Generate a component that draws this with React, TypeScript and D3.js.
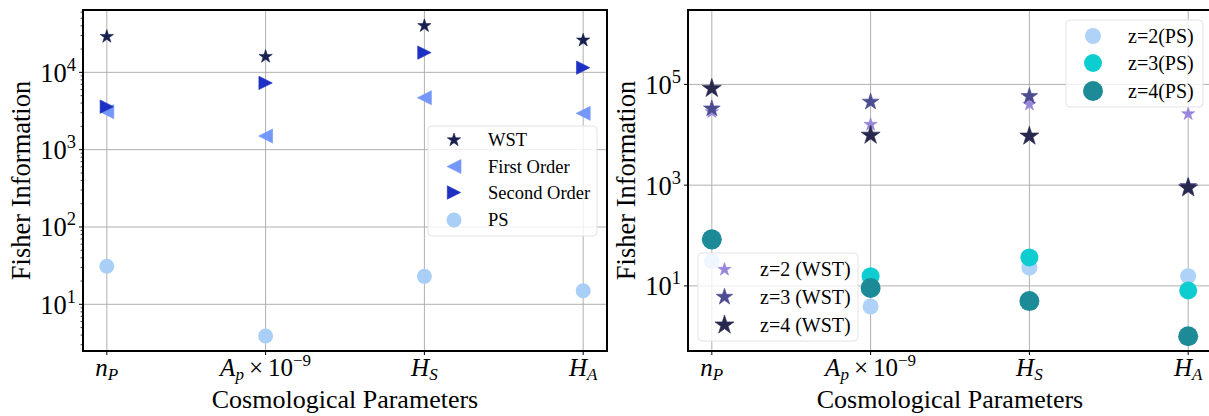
import React, { useEffect, useRef } from 'react';
import * as d3 from 'd3';

// categories
const params = ['nP', 'Ap', 'HS', 'HA'];

// left panel (Fisher information per statistic)
const wstLeft = [2.9e4, 1.6e4, 4.0e4, 2.6e4];
const firstOrder = [3.1e3, 1.5e3, 4.7e3, 2.95e3];
const secondOrder = [3.6e3, 7.3e3, 1.8e4, 1.15e4];
const psLeft = [31, 3.9, 23, 15];

// right panel (per redshift)
const wstZ2 = [2.85e4, 1.6e4, 4.0e4, 2.6e4];
const wstZ3 = [3.3e4, 4.5e4, 5.8e4, 950];
const wstZ4 = [8.3e4, 9.8e3, 9.4e3, 880];
const psZ2 = [31, 3.9, 23, 15.6];
const psZ3 = [80, 15.6, 36.7, 8.1];
const psZ4 = [84, 9.1, 5.0, 1.0];

const leftTicks = [10, 100, 1000, 10000];
const rightTicks = [10, 1000, 100000];

const FONT = "'Liberation Serif', 'DejaVu Serif', serif";

function starPath(r: number) {
  const ri = r * 0.382;
  const pts: string[] = [];
  for (let i = 0; i < 10; i++) {
    const a = -Math.PI / 2 + (i * Math.PI) / 5;
    const rr = i % 2 ? ri : r;
    pts.push(`${(rr * Math.cos(a)).toFixed(2)},${(rr * Math.sin(a)).toFixed(2)}`);
  }
  return 'M' + pts.join('L') + 'Z';
}
function triPath(h: number, dir: 'left' | 'right') {
  return dir === 'right'
    ? `M${-h},${-h}L${h},0L${-h},${h}Z`
    : `M${h},${-h}L${-h},0L${h},${h}Z`;
}

type Marker = { kind: 'star' | 'left' | 'right' | 'circle'; size: number; color: string };

function drawMarker(g: any, m: Marker, x: number, y: number) {
  if (m.kind === 'circle') {
    g.append('circle').attr('cx', x).attr('cy', y).attr('r', m.size).attr('fill', m.color);
  } else {
    const d = m.kind === 'star' ? starPath(m.size) : triPath(m.size, m.kind);
    g.append('path').attr('d', d).attr('transform', `translate(${x},${y})`)
      .attr('fill', m.color).attr('stroke', m.color).attr('stroke-width', 0.6);
  }
}

const App: React.FC = () => {
  const svgRef = useRef<SVGSVGElement>(null);

  useEffect(() => {
    const svg = d3.select(svgRef.current);
    svg.selectAll('*').remove();

    const panel = (x0: number, x1: number, y: any, majors: number[], minors: boolean, labelX: number) => {
      const top = 10, bottom = 351;
      const x = d3.scalePoint<string>().domain(params).range([x0, x1]).padding(0.15);
      const g = svg.append('g');
      // grid
      params.forEach(p => g.append('line').attr('x1', x(p)!).attr('x2', x(p)!)
        .attr('y1', top).attr('y2', bottom).attr('stroke', '#b0b0b0').attr('stroke-width', 1));
      majors.forEach(v => g.append('line').attr('x1', x0).attr('x2', x1)
        .attr('y1', y(v)).attr('y2', y(v)).attr('stroke', '#b0b0b0').attr('stroke-width', 1));
      // ticks
      majors.forEach(v => {
        g.append('line').attr('x1', x0 - 4).attr('x2', x0).attr('y1', y(v)).attr('y2', y(v)).attr('stroke', '#000');
        const exp = Math.round(Math.log10(v));
        const t = g.append('text').attr('x', x0 - 7).attr('y', y(v) + 9.5).attr('text-anchor', 'end')
          .attr('font-family', FONT).attr('font-size', 26.5);
        t.append('tspan').text('10');
        t.append('tspan').attr('font-size', 18.5).attr('dy', -11).text(String(exp));
      });
      if (minors) {
        const [lo, hi] = y.domain();
        for (let e = Math.floor(Math.log10(lo)); e <= Math.ceil(Math.log10(hi)); e++) {
          for (let k = 2; k <= 9; k++) {
            const v = k * Math.pow(10, e);
            if (v < lo || v > hi) continue;
            g.append('line').attr('x1', x0 - 2.5).attr('x2', x0).attr('y1', y(v)).attr('y2', y(v))
              .attr('stroke', '#000').attr('stroke-width', 0.7);
          }
        }
      }
      params.forEach(p => g.append('line').attr('x1', x(p)!).attr('x2', x(p)!)
        .attr('y1', bottom).attr('y2', bottom + 4).attr('stroke', '#000'));
      // x tick labels
      const lab = (p: string) => {
        const t = g.append('text').attr('x', x(p)!).attr('y', 376).attr('text-anchor', 'middle')
          .attr('font-family', FONT).attr('font-size', 25);
        const it = (s: string, sub: boolean, dy: number) =>
          t.append('tspan').attr('font-style', 'italic').attr('font-size', sub ? 17 : 25).attr('dy', dy).text(s);
        if (p === 'nP') { it('n', false, 0); it('P', true, 4); }
        if (p === 'HS') { it('H', false, 0); it('S', true, 4); }
        if (p === 'HA') { it('H', false, 0); it('A', true, 4); }
        if (p === 'Ap') {
          it('A', false, 0); it('p', true, 4);
          t.append('tspan').attr('dy', -4).text('\u2009\u00d7\u200910');
          t.append('tspan').attr('font-size', 17).attr('dy', -10).text('\u22129');
        }
      };
      params.forEach(lab);
      g.append('text').attr('x', (x0 + x1) / 2).attr('y', 408).attr('text-anchor', 'middle')
        .attr('font-family', FONT).attr('font-size', 26).text('Cosmological Parameters');
      g.append('text').attr('transform', `translate(${labelX},${(top + bottom) / 2}) rotate(-90)`)
        .attr('text-anchor', 'middle').attr('font-family', FONT).attr('font-size', 26.5).text('Fisher Information');
      const series = (vals: number[], m: Marker) => params.forEach((p, i) => drawMarker(g, m, x(p)!, y(vals[i])));
      const frame = () => g.append('rect').attr('x', x0).attr('y', top).attr('width', x1 - x0)
        .attr('height', bottom - top).attr('fill', 'none').attr('stroke', '#000').attr('stroke-width', 2);
      return { g, series, frame };
    };

    const legend = (x: number, y: number, w: number, h: number, rows: [Marker, string, number][], mx: number, tx: number, fs: number) => {
      const g = svg.append('g');
      g.append('rect').attr('x', x).attr('y', y).attr('width', w).attr('height', h).attr('rx', 4)
        .attr('fill', '#fff').attr('fill-opacity', 0.8).attr('stroke', '#e3e3e3');
      rows.forEach(([m, label, ry]) => {
        drawMarker(g, m, mx, ry);
        g.append('text').attr('x', tx).attr('y', ry + fs * 0.33).attr('font-family', FONT)
          .attr('font-size', fs).text(label);
      });
    };

    // left panel
    const yL = d3.scaleLog().domain([2.49, 6.4e4]).range([351, 10]);
    const L = panel(83, 607, yL, leftTicks, true, 30);
    const mWst: Marker = { kind: 'star', size: 7, color: '#17204e' };
    const mFirst: Marker = { kind: 'left', size: 7, color: '#7497f9' };
    const mSecond: Marker = { kind: 'right', size: 6.7, color: '#1e30c3' };
    const mPs: Marker = { kind: 'circle', size: 7.5, color: '#a9cff7' };
    L.series(wstLeft, mWst);
    L.series(firstOrder, mFirst);
    L.series(secondOrder, mSecond);
    L.series(psLeft, mPs);
    L.frame();
    legend(428, 126, 169, 110, [[mWst, 'WST', 140], [mFirst, 'First Order', 166.5], [mSecond, 'Second Order', 192.5], [mPs, 'PS', 220]], 454, 488, 18.5);

    // right panel
    const yR = d3.scaleLog().domain([0.51, 3.0e6]).range([351, 10]);
    const R = panel(688, 1212, yR, rightTicks, false, 635);
    const s2: Marker = { kind: 'star', size: 7, color: '#9886da' };
    const s3: Marker = { kind: 'star', size: 8.8, color: '#4c4b90' };
    const s4: Marker = { kind: 'star', size: 10, color: '#28284e' };
    const c2: Marker = { kind: 'circle', size: 8, color: '#aed2f8' };
    const c3: Marker = { kind: 'circle', size: 9, color: '#0ecdd0' };
    const c4: Marker = { kind: 'circle', size: 10, color: '#1d8a97' };
    R.series(psZ2, c2);
    R.series(psZ3, c3);
    R.series(psZ4, c4);
    R.series(wstZ2, s2);
    R.series(wstZ3, s3);
    R.series(wstZ4, s4);
    R.frame();
    legend(1066, 20, 137, 87, [[c2, 'z=2(PS)', 36], [c3, 'z=3(PS)', 63], [c4, 'z=4(PS)', 91]], 1093, 1128, 20);
    legend(698, 253, 160, 88, [[s2, 'z=2 (WST)', 269.5], [s3, 'z=3 (WST)', 297], [s4, 'z=4 (WST)', 325]], 724.5, 760, 20);
  }, []);

  return <svg ref={svgRef} width={1209} height={416} style={{ position: 'absolute', left: 0, top: 0, background: '#fff' }}></svg>;
};

export default App;
